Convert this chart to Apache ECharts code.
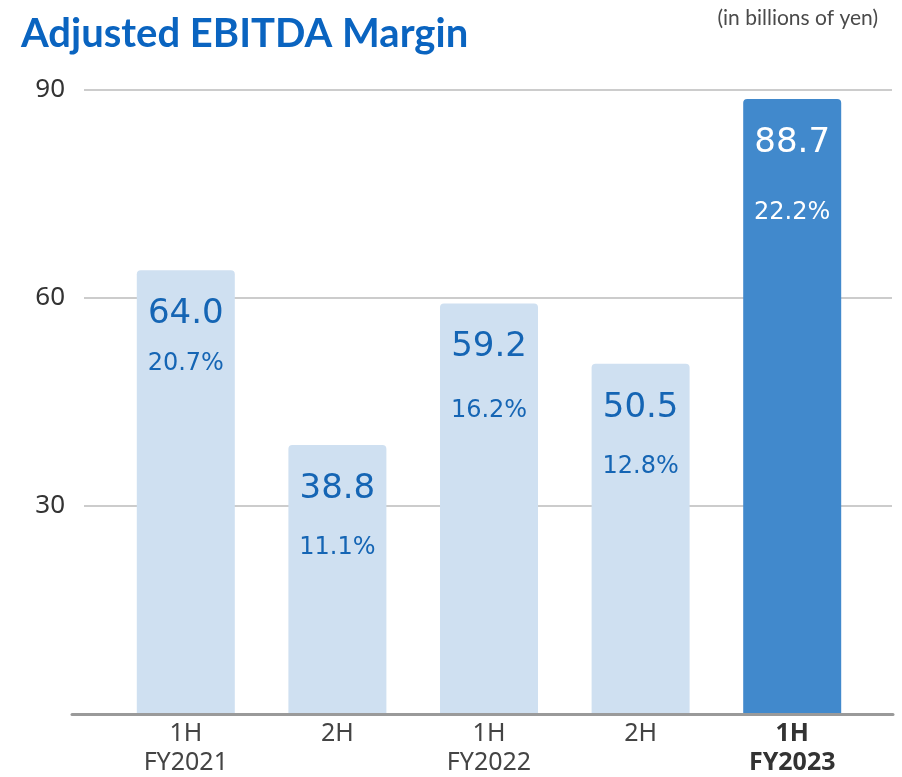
<!DOCTYPE html>
<html>
<head>
<meta charset="utf-8">
<script src="https://cdn.jsdelivr.net/npm/echarts@6/dist/echarts.min.js"></script>
<style>
  body { margin: 0; background: #fff; }
  #chart { width: 902px; height: 777px; }
</style>
</head>
<body>
<div id="chart"></div>
<script>
// 数据
const periods = ['1H', '2H', '1H', '2H', '1H'];
const fiscalYears = ['FY2021', '', 'FY2022', '', 'FY2023'];
const ebitda = [64.0, 38.8, 59.2, 50.5, 88.7];
const margins = [20.7, 11.1, 16.2, 12.8, 22.2];
const yMin = 0, yMax = 90, yStep = 30;

// 百分比标签与数值的间距(样式)
const pctLineHeights = [42, 62, 70, 62, 84];

const chart = echarts.init(document.getElementById('chart'));
const lastIdx = ebitda.length - 1;
const categories = periods.map(function (p, i) { return i; });

const barData = ebitda.map(function (v, i) {
    const isLast = i === lastIdx;
    const txt = isLast ? '#ffffff' : '#1565b4';
    return {
        value: v,
        itemStyle: { color: isLast ? '#4189cc' : '#cfe0f1' },
        label: {
            rich: {
                v: { fontSize: 34, lineHeight: 56, color: txt, fontFamily: 'DejaVu Sans' },
                p: { fontSize: 24, lineHeight: pctLineHeights[i], color: txt, fontFamily: 'DejaVu Sans' }
            }
        }
    };
});

const option = {
    animation: false,
    title: [
        {
            text: 'Adjusted EBITDA Margin',
            left: 16,
            top: 9,
            textStyle: { fontFamily: 'Lato', fontWeight: 'bold', fontSize: 40, color: '#0a64c0' }
        },
        {
            text: '(in billions of yen)',
            right: 19,
            top: 3,
            textStyle: { fontFamily: 'Lato', fontWeight: 'normal', fontSize: 21, color: '#4a4a4a' }
        }
    ],
    grid: [
        { left: 84, right: 10, top: 90, bottom: 63 },   // 网格线和y轴
        { left: 72, right: 9, top: 90, bottom: 63 },    // 基线
        { left: 110, right: 34, top: 90, bottom: 63 }   // 柱子
    ],
    xAxis: [
        { gridIndex: 0, type: 'value', show: false },
        {
            gridIndex: 1, type: 'value', min: 0, max: 1,
            axisLine: { show: true, lineStyle: { color: '#9a9a9a', width: 3 } },
            axisTick: { show: false }, axisLabel: { show: false }, splitLine: { show: false },
            z: 10
        },
        {
            gridIndex: 2, type: 'category', data: categories,
            axisLine: { show: false }, axisTick: { show: false },
            axisLabel: {
                margin: 5,
                interval: 0,
                formatter: function (v, i) {
                    const key = i === lastIdx ? 'b' : 'a';
                    let s = '{' + key + '|' + periods[i] + '}';
                    if (fiscalYears[i]) s += '\n{' + key + '|' + fiscalYears[i] + '}';
                    return s;
                },
                rich: {
                    a: { fontSize: 25, lineHeight: 29, color: '#444', fontFamily: 'Noto Sans' },
                    b: { fontSize: 25, lineHeight: 29, color: '#333', fontWeight: 'bold', fontFamily: 'Noto Sans' }
                }
            }
        }
    ],
    yAxis: [
        {
            gridIndex: 0, type: 'value', min: yMin, max: yMax, interval: yStep,
            axisLine: { show: false }, axisTick: { show: false },
            axisLabel: {
                margin: 19, fontSize: 26, color: '#333', fontFamily: 'Noto Sans',
                padding: [6, 0, 0, 0],
                formatter: function (v) { return v === 0 ? '' : v; }
            },
            splitLine: { lineStyle: { color: '#cccccc', width: 2 } }
        },
        { gridIndex: 1, type: 'value', min: yMin, max: yMax, show: false },
        { gridIndex: 2, type: 'value', min: yMin, max: yMax, show: false }
    ],
    series: [
        {
            type: 'bar',
            xAxisIndex: 2,
            yAxisIndex: 2,
            barWidth: 98,
            data: barData,
            itemStyle: { borderRadius: [4, 4, 0, 0] },
            label: {
                show: true,
                position: 'insideTop',
                distance: 16,
                formatter: function (p) {
                    return '{v|' + ebitda[p.dataIndex].toFixed(1) + '}\n{p|' + margins[p.dataIndex].toFixed(1) + '%}';
                }
            }
        }
    ]
};

chart.setOption(option);
window.addEventListener('resize', function () { chart.resize(); });
</script>
</body>
</html>
